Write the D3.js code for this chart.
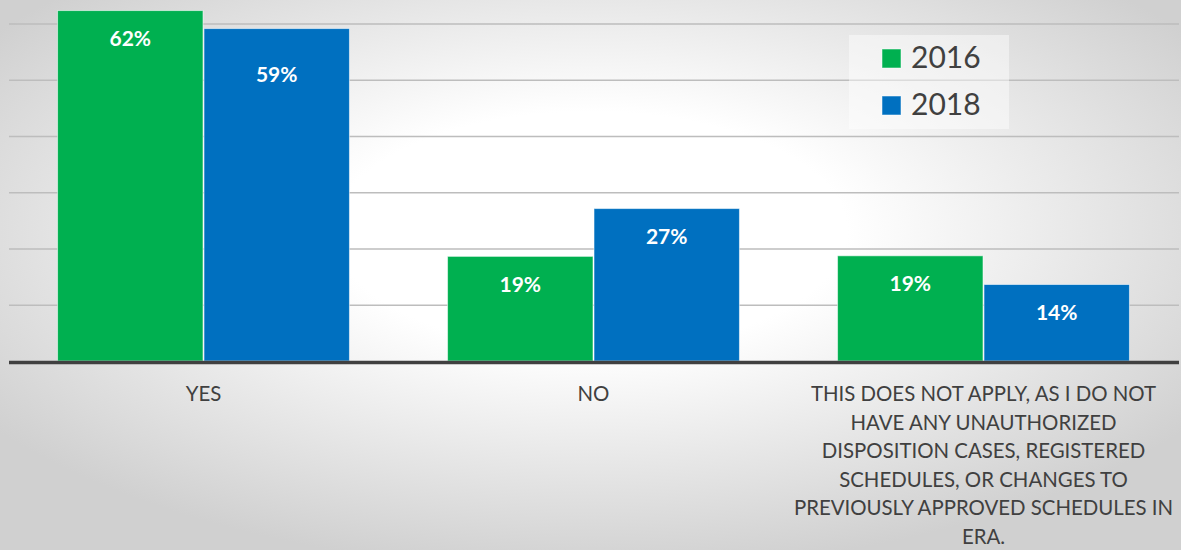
<!DOCTYPE html>
<html>
<head>
<meta charset="utf-8">
<script src="https://cdn.jsdelivr.net/npm/d3@7"></script>
<style>
  html, body { margin: 0; padding: 0; overflow: hidden; }
  svg { display: block; }
</style>
</head>
<body>
<svg id="chart" width="1181" height="550"></svg>
<script>
// ---- data ----
const categories = ["YES", "NO", "THIS DOES NOT APPLY"];
const categoryLabelLines = [
  ["YES"],
  ["NO"],
  ["THIS DOES NOT APPLY, AS I DO NOT",
   "HAVE ANY UNAUTHORIZED",
   "DISPOSITION CASES, REGISTERED",
   "SCHEDULES, OR CHANGES TO",
   "PREVIOUSLY APPROVED SCHEDULES IN",
   "ERA."]
];
const seriesNames = ["2016", "2018"];
const values2016 = [62.3, 18.6, 18.7];
const values2018 = [59.1, 27.1, 13.6];
const gridTicks = [10, 20, 30, 40, 50, 60];

const colors = { "2016": "#00B050", "2018": "#0070C0" };

const W = 1181, H = 550;
const svg = d3.select("#chart");

// background radial gradient
const defs = svg.append("defs");
const grad = defs.append("radialGradient")
  .attr("id", "bg").attr("cx", "0.5").attr("cy", "0.42").attr("r", "0.62")
  .attr("fx", "0.5").attr("fy", "0.42");
grad.append("stop").attr("offset", "0").attr("stop-color", "#ffffff");
grad.append("stop").attr("offset", "0.35").attr("stop-color", "#ffffff");
grad.append("stop").attr("offset", "1").attr("stop-color", "#d0d0d0");
svg.append("rect").attr("width", W).attr("height", H).attr("fill", "url(#bg)");

const x0 = d3.scaleBand().domain(categories).range([8.5, 1178.5])
  .paddingInner(0.249).paddingOuter(0.1245);
const x1 = d3.scaleBand().domain(seriesNames).range([0, x0.bandwidth()]).padding(0);
const y = d3.scaleLinear().domain([0, 60]).range([361, 23.5]);

// gridlines via axis
const gridAxis = d3.axisLeft(y).tickValues(gridTicks).tickSize(-(1179 - 9)).tickFormat("");
const g = svg.append("g").attr("transform", "translate(9,0)").call(gridAxis);
g.select(".domain").remove();
g.selectAll(".tick line").attr("stroke", "#bdbdbd").attr("stroke-width", 1.6);

// bars
const data = categories.map((c, i) => ({
  cat: c,
  vals: [{ s: "2016", v: values2016[i], i }, { s: "2018", v: values2018[i], i }]
}));

const groups = svg.append("g").selectAll("g").data(data).join("g")
  .attr("transform", d => `translate(${x0(d.cat)},0)`);

groups.selectAll("rect").data(d => d.vals).join("rect")
  .attr("x", d => x1(d.s) + 0.5)
  .attr("width", x1.bandwidth() - 1)
  .attr("y", d => y(d.v))
  .attr("height", d => y(0) - y(d.v))
  .attr("fill", d => colors[d.s])
  .attr("stroke", "rgba(255,255,255,0.55)")
  .attr("stroke-width", 1);

const fmt = d => d3.format(".0f")(d) + "%";
groups.selectAll("text").data(d => d.vals).join("text")
  .attr("x", d => x1(d.s) + x1.bandwidth() / 2)
  .attr("y", d => y(d.v) + ((d.s === "2018" && d.i === 0) ? 45 : 27))
  .attr("text-anchor", "middle")
  .attr("dominant-baseline", "central")
  .attr("fill", "#ffffff")
  .attr("font-family", "Lato, 'Open Sans', sans-serif")
  .attr("font-weight", "bold")
  .attr("font-size", 21)
  .text(d => fmt(d.v));

// baseline
const xAxis = d3.axisBottom(x0).tickSize(0).tickFormat("");
const xa = svg.append("g").attr("transform", `translate(0,${y(0) + 1})`).call(xAxis);
xa.select(".domain").attr("stroke", "#404040").attr("stroke-width", 3.5);

// category labels
const labels = svg.append("g").selectAll("text").data(categories).join("text")
  .attr("x", d => x0(d) + x0.bandwidth() / 2)
  .attr("y", 401)
  .attr("text-anchor", "middle")
  .attr("fill", "#404040")
  .attr("font-family", "Lato, 'Open Sans', sans-serif")
  .attr("font-size", 20.4);
labels.each(function(d, i) {
  d3.select(this).selectAll("tspan").data(categoryLabelLines[i]).join("tspan")
    .attr("x", x0(d) + x0.bandwidth() / 2)
    .attr("dy", (t, j) => j === 0 ? 0 : 28.6)
    .text(t => t);
});

// legend
const legend = svg.append("g");
legend.append("rect").attr("x", 849).attr("y", 35).attr("width", 160).attr("height", 94)
  .attr("fill", "rgba(255,255,255,0.45)");
const li = legend.selectAll("g").data(seriesNames).join("g")
  .attr("transform", (d, i) => `translate(882,${49 + i * 47})`);
li.append("rect").attr("width", 19).attr("height", 19)
  .attr("fill", d => colors[d]).attr("stroke", "rgba(255,255,255,0.5)").attr("stroke-width", 1);
li.append("text").attr("x", 29).attr("y", 19)
  .attr("fill", "#404040")
  .attr("font-family", "Lato, 'Open Sans', sans-serif")
  .attr("font-size", 30)
  .text(d => d);
</script>
</body>
</html>
